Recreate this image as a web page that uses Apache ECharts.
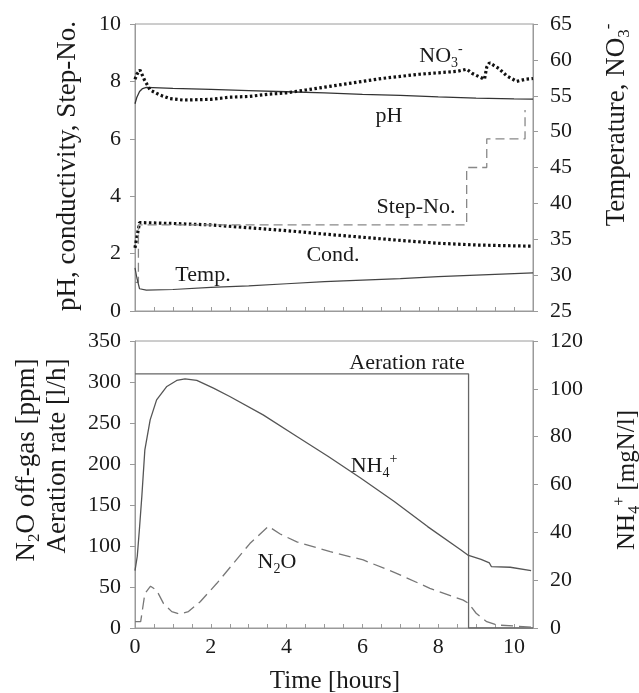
<!DOCTYPE html>
<html>
<head>
<meta charset="utf-8">
<script src="https://cdn.jsdelivr.net/npm/echarts@6/dist/echarts.min.js"></script>
<style>
  html, body { margin: 0; padding: 0; background: #fff; }
  #chart { width: 639px; height: 693px; }
</style>
</head>
<body>
<div id="chart"></div>
<script>
// ---- Upper panel: [time h, value] ----
const pH = [[0,7.22],[0.05,7.45],[0.12,7.65],[0.2,7.75],[0.3,7.79],[1,7.76],[2,7.72],[3,7.68],[4,7.64],[5,7.6],[6,7.55],[7,7.51],[8,7.46],[9,7.42],[10,7.39],[10.5,7.38]];
const conductivity = [[0,2.2],[0.04,2.5],[0.12,3.08],[1,3.05],[2,3.0],[3,2.9],[4,2.8],[5,2.68],[6,2.57],[7,2.46],[8,2.36],[9,2.3],[10,2.27],[10.5,2.26]];
const stepNo = [[0,1],[0.09,1],[0.09,3],[8.75,3],[8.75,5],[9.28,5],[9.28,6],[10.29,6],[10.29,7]];
const nitrate = [[0,57.3],[0.05,58.0],[0.13,58.6],[0.25,57.2],[0.4,55.8],[0.66,55.1],[0.92,54.6],[1.27,54.4],[2,54.5],[2.5,54.8],[3,54.9],[3.5,55.2],[4,55.4],[4.5,55.8],[5,56.2],[5.5,56.6],[6,57.0],[6.5,57.4],[7,57.7],[7.5,58.0],[8,58.2],[8.5,58.4],[8.75,58.7],[8.9,58.1],[9.1,57.6],[9.22,57.3],[9.28,59.0],[9.35,59.6],[9.6,58.8],[9.8,57.8],[10.07,57.0],[10.3,57.3],[10.5,57.4]];
const temperature = [[0,31],[0.05,29.6],[0.12,28.1],[0.3,27.9],[1,28.0],[2,28.3],[3,28.5],[4,28.8],[5,29.1],[6,29.3],[7,29.5],[8,29.8],[9,30.0],[10,30.2],[10.5,30.3]];

// ---- Lower panel ----
const aeration = [[0,310],[8.8,310],[8.8,0],[10.5,0]];
const n2o = [[0,7.7],[0.15,7.7],[0.26,42],[0.41,51],[0.57,46],[0.75,30],[0.97,20],[1.19,17],[1.41,20],[1.72,32],[2.16,54.5],[2.6,79],[3.03,103],[3.52,124],[3.83,114.6],[4.27,105],[5.15,93],[6.02,83],[6.9,66.7],[7.78,48.4],[8.66,34],[8.8,30],[9.0,18],[9.28,7.7],[9.54,3.7],[10,2.4],[10.5,1]];
const ammonium = [[0,24],[0.06,30],[0.12,42],[0.18,55],[0.26,74.5],[0.4,87],[0.57,95.4],[0.84,101],[1.1,103.5],[1.32,104.2],[1.63,103.5],[2.07,100.3],[2.5,96.8],[3.38,89.1],[4.25,80.3],[5.1,71.7],[5.96,62.6],[6.84,52.9],[7.72,42.4],[8.6,32.6],[8.78,30.5],[9.13,28.7],[9.35,27.2],[9.4,25.7],[9.9,25.4],[10.45,24]];

// ---- Axis ranges ----
const timeRange = [0, 10.5];
const leftTopRange = [0, 10, 2];
const rightTopRange = [25, 65, 5];
const leftBottomRange = [0, 350, 50];
const rightBottomRange = [0, 120, 20];

const FONT = '"Liberation Serif", "Times New Roman", serif';
const AXIS = '#9a9a9a';
const TXT = '#1a1a1a';

function valueAxis(gridIndex, range, position, extra) {
  return Object.assign({
    type: 'value', gridIndex, position,
    min: range[0], max: range[1], interval: range[2],
    axisLine: { show: true, lineStyle: { color: AXIS, width: 1 } },
    axisTick: { show: true, inside: false, length: 5, lineStyle: { color: AXIS } },
    axisLabel: { color: TXT, fontFamily: FONT, fontSize: 22, margin: 14 },
    splitLine: { show: false }
  }, extra || {});
}

function timeAxis(gridIndex, showLabels) {
  return {
    type: 'value', gridIndex, min: timeRange[0], max: timeRange[1], interval: 0.5,
    axisLine: { show: true, onZero: false, lineStyle: { color: AXIS, width: 1 } },
    axisTick: { show: true, inside: true, length: 4, lineStyle: { color: AXIS } },
    axisLabel: {
      show: showLabels, color: TXT, fontFamily: FONT, fontSize: 22, margin: 8,
      formatter: v => (Math.abs(v % 2) < 1e-9 ? String(v) : '')
    },
    splitLine: { show: false }
  };
}

function line(name, data, xi, yi, style) {
  return {
    name, type: 'line', data, xAxisIndex: xi, yAxisIndex: yi,
    showSymbol: false, symbol: 'none', smooth: false,
    animation: false, lineStyle: style, z: 3
  };
}

function richStyles(size) {
  const small = Math.round(size * 0.62);
  const lh = size + 6;
  return {
    t: { fontFamily: FONT, fontSize: size, lineHeight: lh, color: TXT },
    b: { fontFamily: FONT, fontSize: small, lineHeight: lh, verticalAlign: 'bottom', color: TXT },
    p: { fontFamily: FONT, fontSize: small, lineHeight: lh, verticalAlign: 'top', color: TXT }
  };
}

function label(x, y, text, size, rotate) {
  return {
    type: 'text', x, y, rotation: rotate ? Math.PI / 2 : 0, z: 10,
    style: {
      text, rich: richStyles(size), align: 'center', verticalAlign: 'middle',
      fontFamily: FONT, fontSize: size, fill: TXT
    }
  };
}

const chart = echarts.init(document.getElementById('chart'), null, { renderer: 'canvas' });
chart.setOption({
  animation: false,
  backgroundColor: '#fff',
  grid: [
    { left: 135, right: 106, top: 24, height: 287, show: true, borderColor: AXIS, borderWidth: 1 },
    { left: 135, right: 106, top: 341, height: 287, show: true, borderColor: AXIS, borderWidth: 1 }
  ],
  xAxis: [timeAxis(0, false), timeAxis(1, true)],
  yAxis: [
    valueAxis(0, leftTopRange, 'left'),
    valueAxis(0, rightTopRange, 'right', { axisLabel: { color: TXT, fontFamily: FONT, fontSize: 22, margin: 17 } }),
    valueAxis(1, leftBottomRange, 'left'),
    valueAxis(1, rightBottomRange, 'right', { axisLabel: { color: TXT, fontFamily: FONT, fontSize: 22, margin: 17 } })
  ],
  series: [
    line('pH', pH, 0, 0, { color: '#333', width: 1.3 }),
    line('Cond.', conductivity, 0, 0, { color: '#111', width: 3.2, type: [2.5, 2.5] }),
    line('Step-No.', stepNo, 0, 0, { color: '#888', width: 1.3, type: [9, 5] }),
    line('NO3-', nitrate, 0, 1, { color: '#111', width: 3.2, type: [2.5, 2.5] }),
    line('Temp.', temperature, 0, 1, { color: '#444', width: 1.2 }),
    line('Aeration rate', aeration, 1, 2, { color: '#666', width: 1.3 }),
    line('N2O', n2o, 1, 2, { color: '#777', width: 1.3, type: [12, 6] }),
    line('NH4+', ammonium, 1, 3, { color: '#555', width: 1.3 })
  ],
  graphic: [
    // axis titles
    label(68, 166, '{t|pH, conductivity, Step-No.}', 27, true),
    label(617, 125, '{t|Temperature, NO}{b|3}{p|-}', 27, true),
    label(27, 460, '{t|N}{b|2}{t|O off-gas [ppm]}', 27, true),
    label(58, 456, '{t|Aeration rate [l/h]}', 27, true),
    label(627, 480, '{t|NH}{b|4}{p|+}{t| [mgN/l]}', 25, true),
    label(335, 681, '{t|Time [hours]}', 25, false),
    // curve labels
    label(441, 56, '{t|NO}{b|3}{p|-}', 22, false),
    label(389, 116, '{t|pH}', 22, false),
    label(416, 207, '{t|Step-No.}', 22, false),
    label(333, 255, '{t|Cond.}', 22, false),
    label(203, 275, '{t|Temp.}', 22, false),
    label(407, 363, '{t|Aeration rate}', 22, false),
    label(374, 466, '{t|NH}{b|4}{p|+}', 22, false),
    label(277, 562, '{t|N}{b|2}{t|O}', 22, false)
  ]
});
</script>
</body>
</html>
